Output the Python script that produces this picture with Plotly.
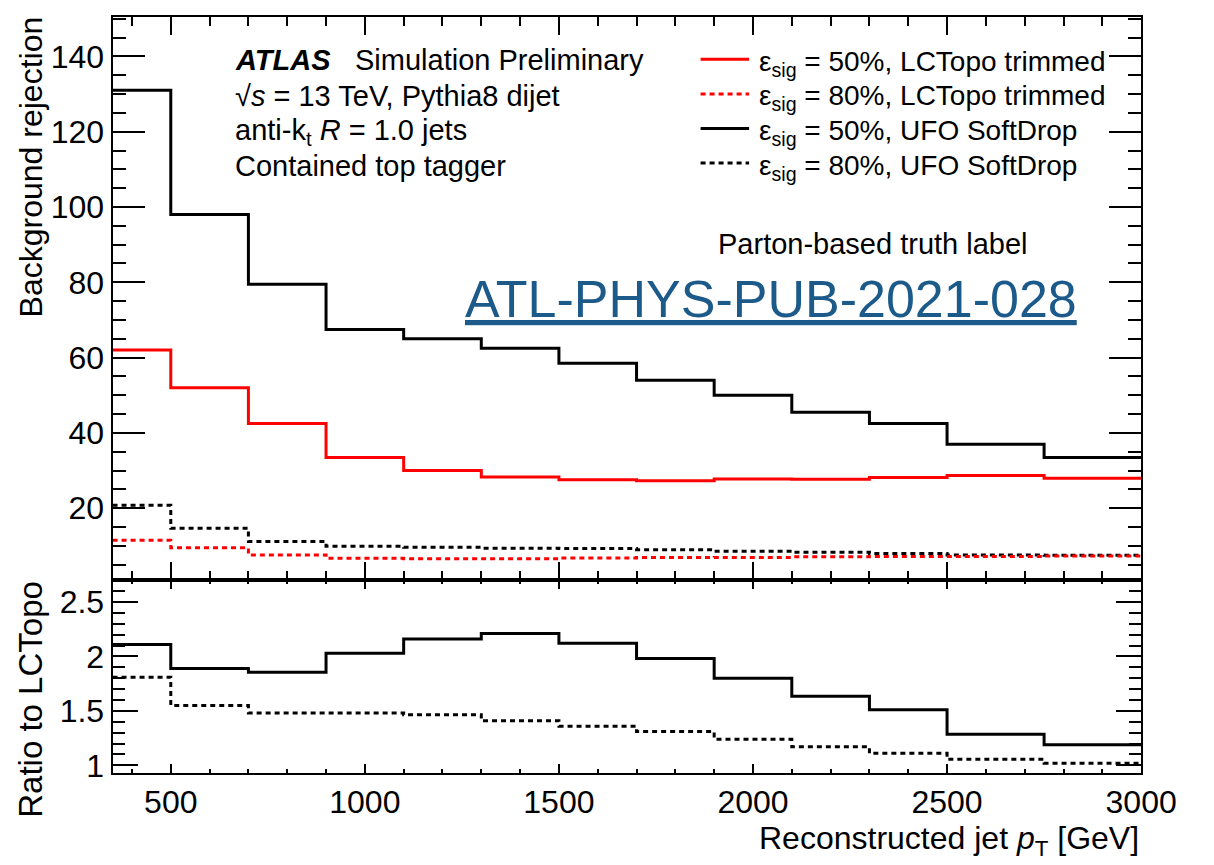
import plotly.graph_objects as go

W, H = 1214, 865
FONT = "Liberation Sans, Arial, Helvetica, sans-serif"

# Reconstructed jet pT bin edges [GeV]
bin_edges = [350, 500, 700, 900, 1100, 1300, 1500, 1700, 1900, 2100, 2300, 2500, 2750, 3000]

# Background rejection per bin
lctopo_50 = [62.0, 52.0, 42.5, 33.5, 30.0, 28.3, 27.6, 27.3, 27.8, 27.7, 28.2, 28.7, 28.0]
lctopo_80 = [11.5, 9.5, 7.6, 6.7, 6.6, 6.6, 6.8, 6.9, 6.95, 7.1, 7.2, 7.2, 7.35]
ufo_50 = [131.0, 98.0, 79.5, 67.5, 65.0, 62.5, 58.5, 54.0, 50.0, 45.5, 42.5, 37.0, 33.5]
ufo_80 = [20.8, 14.7, 11.2, 9.9, 9.65, 9.4, 9.3, 9.0, 8.6, 8.3, 8.0, 7.6, 7.5]

# UFO SoftDrop / LCTopo trimmed
ratio_50 = [2.11, 1.89, 1.855, 2.03, 2.16, 2.21, 2.12, 1.98, 1.80, 1.635, 1.51, 1.285, 1.19]
ratio_80 = [1.81, 1.55, 1.48, 1.48, 1.465, 1.41, 1.36, 1.31, 1.24, 1.17, 1.11, 1.055, 1.02]

x_tickvals = [500, 1000, 1500, 2000, 2500, 3000]
top_tickvals = [20, 40, 60, 80, 100, 120, 140]
ratio_tickvals = [1, 1.5, 2, 2.5]
ratio_ticktext = ["1", "1.5", "2", "2.5"]

DASH = "5px,4px"
styles = {
    "lc50": dict(color="#ff0000", width=3, dash="solid"),
    "lc80": dict(color="#ff0000", width=3, dash=DASH),
    "ufo50": dict(color="#000000", width=3, dash="solid"),
    "ufo80": dict(color="#000000", width=3, dash=DASH),
}

legend_entries = [
    ("lc50", "ε<sub>sig</sub> = 50%, LCTopo trimmed"),
    ("lc80", "ε<sub>sig</sub> = 80%, LCTopo trimmed"),
    ("ufo50", "ε<sub>sig</sub> = 50%, UFO SoftDrop"),
    ("ufo80", "ε<sub>sig</sub> = 80%, UFO SoftDrop"),
]


def px_x(p):
    return p / W


def px_y(p):
    return 1 - p / H


def step(values, style, xa, ya):
    return go.Scatter(
        x=bin_edges,
        y=list(values) + [values[-1]],
        mode="lines",
        line=dict(shape="hv", **style),
        xaxis=xa,
        yaxis=ya,
        showlegend=False,
        hoverinfo="skip",
    )


fig = go.Figure()
fig.add_trace(step(ufo_80, styles["ufo80"], "x", "y"))
fig.add_trace(step(lctopo_80, styles["lc80"], "x", "y"))
fig.add_trace(step(ufo_50, styles["ufo50"], "x", "y"))
fig.add_trace(step(lctopo_50, styles["lc50"], "x", "y"))
fig.add_trace(step(ratio_80, styles["ufo80"], "x2", "y2"))
fig.add_trace(step(ratio_50, styles["ufo50"], "x2", "y2"))

x_dom = [px_x(116), px_x(1176)]
top_dom = [px_y(587), px_y(17)]
bot_dom = [px_y(782), px_y(587)]

axis_common = dict(
    showline=True, linecolor="black", linewidth=2, mirror="ticks",
    ticks="inside", tickcolor="black", tickwidth=1.5,
    showgrid=False, zeroline=False,
    tickfont=dict(family=FONT, size=32, color="black"),
)

fig.update_layout(
    width=W, height=H,
    margin=dict(l=0, r=0, t=0, b=0),
    paper_bgcolor="white", plot_bgcolor="white",
    font=dict(family=FONT, color="black"),
    showlegend=False,
    xaxis=dict(
        domain=x_dom, range=[350, 3000], anchor="y",
        tickvals=x_tickvals, showticklabels=False, ticklen=18,
        minor=dict(ticks="inside", dtick=100, ticklen=9, tickcolor="black", tickwidth=1.5),
        **axis_common,
    ),
    yaxis=dict(
        domain=top_dom, range=[0.9, 150.5], anchor="x",
        tickvals=top_tickvals, ticklen=32,
        minor=dict(ticks="inside", dtick=5, ticklen=13, tickcolor="black", tickwidth=1.5),
        **axis_common,
    ),
    xaxis2=dict(
        domain=x_dom, range=[350, 3000], anchor="y2",
        tickvals=x_tickvals, ticklen=9,
        minor=dict(ticks="inside", dtick=100, ticklen=4, tickcolor="black", tickwidth=1.5),
        **axis_common,
    ),
    yaxis2=dict(
        domain=bot_dom, range=[0.93, 2.7], anchor="x2",
        tickvals=ratio_tickvals, ticktext=ratio_ticktext, ticklen=25,
        minor=dict(ticks="inside", dtick=0.1, ticklen=12, tickcolor="black", tickwidth=1.5),
        **axis_common,
    ),
)

ann = []


def text(x, y, s, size=29, xanchor="left", yanchor="middle", color="black", angle=0):
    ann.append(dict(
        x=x, y=y, xref="paper", yref="paper", text=s, showarrow=False,
        xanchor=xanchor, yanchor=yanchor, textangle=angle,
        font=dict(family=FONT, size=size, color=color),
    ))


# Experiment label block
text(px_x(240), px_y(61), "<b><i>ATLAS</i></b>")
text(px_x(364), px_y(61), "Simulation Preliminary")
text(px_x(240), px_y(97), "√<i>s</i> = 13 TeV, Pythia8 dijet")
text(px_x(240), px_y(134), "anti-k<sub>t</sub> <i>R</i> = 1.0 jets")
text(px_x(240), px_y(168), "Contained top tagger")

# Legend
shapes = []
for i, (key, label) in enumerate(legend_entries):
    yc = 60 + 35 * i
    st = styles[key]
    shapes.append(dict(
        type="line", xref="paper", yref="paper",
        x0=px_x(722), x1=px_x(772), y0=px_y(yc), y1=px_y(yc),
        line=dict(color=st["color"], width=st["width"], dash=st["dash"]),
    ))
    text(px_x(780), px_y(yc + 4), label, size=28)

text(px_x(738), px_y(247), "Parton-based truth label", size=29)
text(px_x(477), px_y(303), "<u>ATL-PHYS-PUB-2021-028</u>", size=52, color="#1c5a8a")

# Axis titles
text(px_x(32), px_y(15), "Background rejection", size=32, xanchor="center", yanchor="top", angle=-90)
text(px_x(32), px_y(586), "Ratio to LCTopo", size=33, xanchor="center", yanchor="top", angle=-90)
text(px_x(1176), px_y(850), "Reconstructed jet <i>p</i><sub>T</sub> [GeV]", size=32, xanchor="right")

fig.update_layout(annotations=ann, shapes=shapes)

fig.write_html("out.html")
